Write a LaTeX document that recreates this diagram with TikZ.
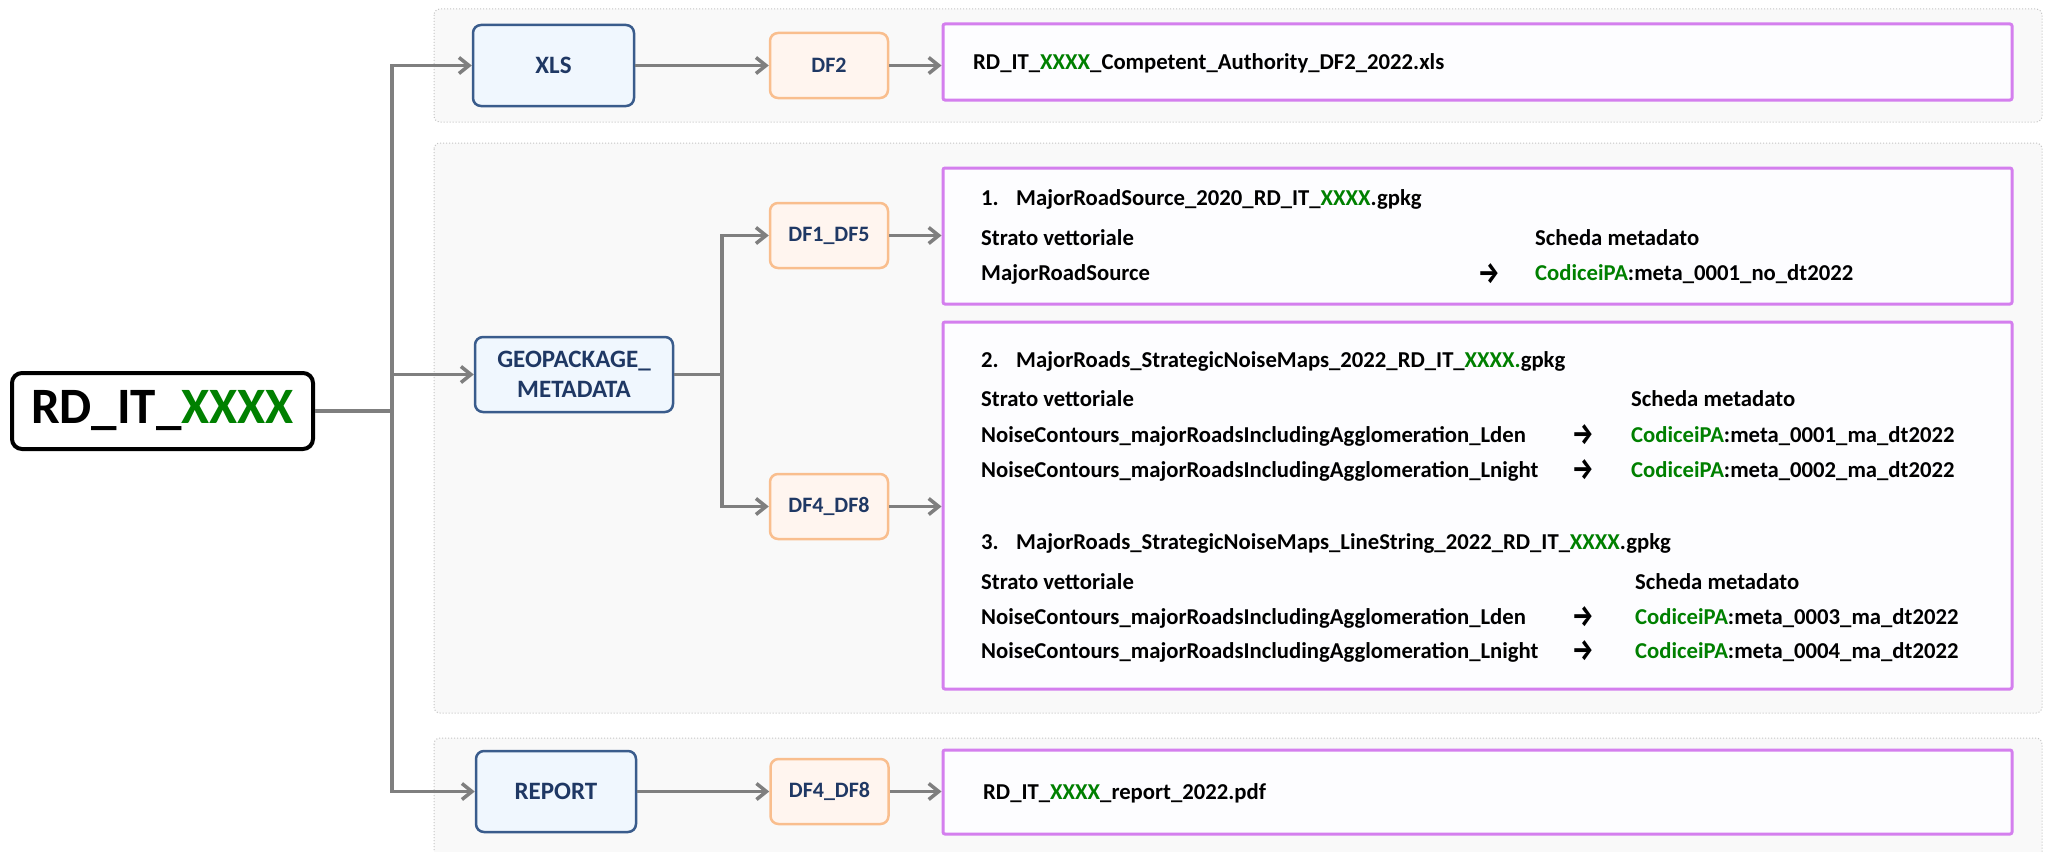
\documentclass[tikz,border=0pt]{standalone}
\usepackage{fontspec}
\setmainfont{Carlito}
\newfontfamily\symfont{Fira Sans}
\usetikzlibrary{arrows.meta}
\definecolor{navytxt}{HTML}{1F3864}
\definecolor{xgreen}{HTML}{008000}
\definecolor{bluefill}{HTML}{F0F7FE}
\definecolor{blueline}{HTML}{3A5C8C}
\definecolor{orfill}{HTML}{FFF5EF}
\definecolor{orline}{HTML}{F9BE8E}
\definecolor{violine}{HTML}{D47FEE}
\definecolor{vifill}{HTML}{FDFDFF}
\definecolor{grpfill}{HTML}{F9F9F9}
\definecolor{grpline}{HTML}{C4C4C4}
\definecolor{conncol}{HTML}{7F7F7F}
\newcommand\gx[1]{\textcolor{xgreen}{#1}}
\newcommand\rarr{\scalebox{0.8}[1]{→}}
\begin{document}
\begin{tikzpicture}[x=1pt,y=-1pt,
  grp/.style={draw=grpline, fill=grpfill, line width=1pt, dotted, rounded corners=6pt},
  rootbox/.style={draw=black, fill=white, line width=4pt, rounded corners=10pt, font=\fontsize{51}{60}\selectfont\bfseries, inner sep=0pt},
  bluebox/.style={draw=blueline, fill=bluefill, line width=2.5pt, rounded corners=8pt, text=navytxt, font=\fontsize{25}{30}\selectfont\bfseries, align=center, inner sep=0pt},
  dfbox/.style={draw=orline, fill=orfill, line width=2.5pt, rounded corners=8pt, text=navytxt, font=\fontsize{22}{26}\selectfont\bfseries, inner sep=0pt, minimum width=118pt, minimum height=65pt},
  filebox/.style={draw=violine, fill=vifill, line width=3pt, rounded corners=2pt, inner sep=0pt, minimum width=1069pt},
  lbl/.style={anchor=base west, inner sep=0pt, font=\fontsize{22.7}{27}\selectfont\bfseries},
  sym/.style={anchor=center, inner sep=0pt, font=\fontsize{30}{34}\selectfont\symfont\bfseries},
  link/.style={draw=conncol, line width=3.5pt},
  arr/.style={link, -{Straight Barb[length=10pt,width=16pt]}},
]
\clip (0,0) rectangle (2049,851);
\fill[white] (0,0) rectangle (2049,851);
% groups
\draw[grp] (434,9) rectangle (2042,122);
\draw[grp] (434,143) rectangle (2042,713);
\draw[grp] (434,738) rectangle (2042,880);
% main nodes
\node[rootbox, minimum width=301pt, minimum height=76pt] (root) at (162.5,411) {RD\_IT\_\gx{XXXX}};
\node[bluebox, minimum width=161pt, minimum height=81pt] (xls) at (553.5,65.5) {XLS};
\node[bluebox, minimum width=198pt, minimum height=75pt] (geo) at (574,374.5) {GEOPACKAGE\_\\METADATA};
\node[bluebox, minimum width=160pt, minimum height=81pt] (rep) at (556,791.5) {REPORT};
\node[dfbox] (df2) at (829,65.5) {DF2};
\node[dfbox] (df15) at (829,235.5) {DF1\_DF5};
\node[dfbox] (df48a) at (829,506.5) {DF4\_DF8};
\node[dfbox] (df48b) at (829.5,791.5) {DF4\_DF8};
\node[filebox, minimum height=76pt] (f0) at (1477.5,62) {};
\node[filebox, minimum height=136pt] (f1) at (1477.5,236) {};
\node[filebox, minimum height=367pt] (f2) at (1477.5,505.5) {};
\node[filebox, minimum height=84pt] (f3) at (1477.5,792) {};
% file texts
\node[lbl] (t0) at (973,70) {RD\_IT\_\gx{XXXX}\_Competent\_Authority\_DF2\_2022.xls};
\node[lbl] (n1) at (981,205) {1.};
\node[lbl] (h1) at (1016,205) {MajorRoadSource\_2020\_RD\_IT\_\gx{XXXX}.gpkg};
\node[lbl] (s1) at (981,245) {Strato vettoriale};
\node[lbl] (m1) at (1535,245) {Scheda metadato};
\node[lbl] (l1) at (981,280) {MajorRoadSource};
\node[sym] (a1) at (1489,274) {\rarr};
\node[lbl] (c1) at (1535,280) {\gx{CodiceiPA}:meta\_0001\_no\_dt2022};
\node[lbl] (n2) at (981,367) {2.};
\node[lbl] (h2) at (1016,367) {MajorRoads\_StrategicNoiseMaps\_2022\_RD\_IT\_\gx{XXXX.}gpkg};
\node[lbl] (s2) at (981,406) {Strato vettoriale};
\node[lbl] (m2) at (1631,406) {Scheda metadato};
\node[lbl] (l2a) at (981,442) {NoiseContours\_majorRoadsIncludingAgglomeration\_Lden};
\node[sym] (a2a) at (1583,435) {\rarr};
\node[lbl] (c2a) at (1631,442) {\gx{CodiceiPA}:meta\_0001\_ma\_dt2022};
\node[lbl] (l2b) at (981,477) {NoiseContours\_majorRoadsIncludingAgglomeration\_Lnight};
\node[sym] (a2b) at (1583,470) {\rarr};
\node[lbl] (c2b) at (1631,477) {\gx{CodiceiPA}:meta\_0002\_ma\_dt2022};
\node[lbl] (n3) at (981,549) {3.};
\node[lbl] (h3) at (1016,549) {MajorRoads\_StrategicNoiseMaps\_LineString\_2022\_RD\_IT\_\gx{XXXX}.gpkg};
\node[lbl] (s3) at (981,589) {Strato vettoriale};
\node[lbl] (m3) at (1635,589) {Scheda metadato};
\node[lbl] (l3a) at (981,624) {NoiseContours\_majorRoadsIncludingAgglomeration\_Lden};
\node[sym] (a3a) at (1583,617) {\rarr};
\node[lbl] (c3a) at (1635,624) {\gx{CodiceiPA}:meta\_0003\_ma\_dt2022};
\node[lbl] (l3b) at (981,658) {NoiseContours\_majorRoadsIncludingAgglomeration\_Lnight};
\node[sym] (a3b) at (1583,651) {\rarr};
\node[lbl] (c3b) at (1635,658) {\gx{CodiceiPA}:meta\_0004\_ma\_dt2022};
\node[lbl] (t3) at (983,799) {RD\_IT\_\gx{XXXX}\_report\_2022.pdf};
% connectors
\coordinate (t) at (392,411);
\draw[link] (root.east) -- (t);
\draw[arr] (t) |- (xls.west);
\draw[arr] (t) |- (geo.west);
\draw[arr] (t) |- (rep.west);
\draw[arr] (xls.east) -- (df2.west);
\draw[arr] (df2.east) -- (df2.east -| f0.west);
\coordinate (b) at (722,374.5);
\draw[link] (geo.east) -- (b);
\draw[arr] (b) |- (df15.west);
\draw[arr] (b) |- (df48a.west);
\draw[arr] (df15.east) -- (df15.east -| f1.west);
\draw[arr] (df48a.east) -- (df48a.east -| f2.west);
\draw[arr] (rep.east) -- (df48b.west);
\draw[arr] (df48b.east) -- (df48b.east -| f3.west);
\end{tikzpicture}
\end{document}
